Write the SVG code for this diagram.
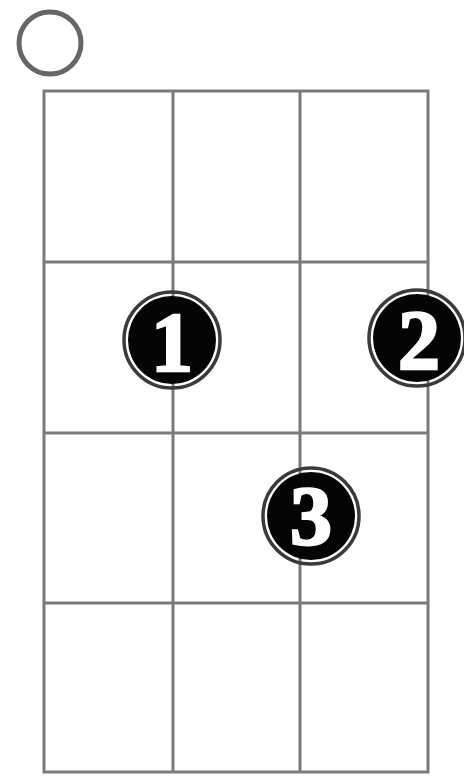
<svg xmlns="http://www.w3.org/2000/svg" width="464" height="776" viewBox="0 0 464 776">
<style>
.grid{stroke:#7a7a7a;stroke-width:3;fill:none}
.ring{fill:none;stroke:#3a3a3a;stroke-width:3.5}
.dot{fill:#050505}
.num{font-family:"Liberation Serif",serif;font-weight:bold;font-size:84px;fill:#fff;stroke:#fff;stroke-width:2.5;text-anchor:middle}
</style>
<rect width="464" height="776" fill="#fff"/>
<g id="connectors">
<rect class="grid" x="44" y="91" width="384" height="681"/>
<line class="grid" x1="173" y1="91" x2="173" y2="772"/>
<line class="grid" x1="300" y1="91" x2="300" y2="772"/>
<line class="grid" x1="44" y1="262" x2="428" y2="262"/>
<line class="grid" x1="44" y1="433" x2="428" y2="433"/>
<line class="grid" x1="44" y1="603" x2="428" y2="603"/>
</g>
<g id="open">
<circle cx="50" cy="43" r="31" fill="none" stroke="#666" stroke-width="5"/>
</g>
<g id="f1">
<circle class="ring" cx="172" cy="340" r="48"/>
<circle class="dot" cx="172" cy="340" r="44"/>
<text class="num" x="172" y="371">1</text>
</g>
<g id="f2">
<circle class="ring" cx="417" cy="338" r="48"/>
<circle class="dot" cx="417" cy="338" r="44"/>
<text class="num" x="419" y="369">2</text>
</g>
<g id="f3">
<circle class="ring" cx="311" cy="516" r="48"/>
<circle class="dot" cx="311" cy="516" r="44"/>
<text class="num" x="311" y="545">3</text>
</g>
</svg>
